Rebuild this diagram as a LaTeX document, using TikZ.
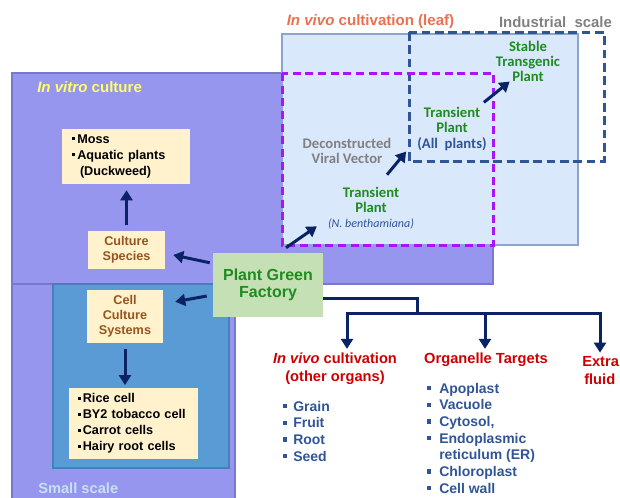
\documentclass[tikz,border=0pt]{standalone}
\usepackage{fontspec}
\setmainfont{Liberation Sans}
\newfontfamily\calfont{Carlito}
\usetikzlibrary{arrows.meta,calc}

\definecolor{vitro}{RGB}{150,150,238}
\definecolor{vitroline}{RGB}{120,120,205}
\definecolor{cellfill}{RGB}{91,155,213}
\definecolor{cellline}{RGB}{70,128,188}
\definecolor{leaffill}{RGB}{218,232,252}
\definecolor{leafline}{RGB}{140,165,205}
\definecolor{cream}{RGB}{255,242,204}
\definecolor{pgffill}{RGB}{197,224,180}
\definecolor{navy}{RGB}{10,35,100}
\definecolor{dashblue}{RGB}{47,85,151}
\definecolor{dashpurple}{RGB}{170,20,250}
\definecolor{orangetxt}{RGB}{236,112,80}
\definecolor{graytxt}{RGB}{128,128,128}
\definecolor{greentxt}{RGB}{30,140,30}
\definecolor{redtxt}{RGB}{204,0,0}
\definecolor{bluetxt}{RGB}{47,85,151}
\definecolor{yellowtxt}{RGB}{255,255,102}
\definecolor{browntxt}{RGB}{150,85,30}
\definecolor{smalltxt}{RGB}{200,225,245}

\newcommand{\sqb}{\rule[0.2em]{0.3em}{0.3em}}
\newcommand{\boxb}{\makebox[4pt][l]{\rule[0.25em]{2.3pt}{2.3pt}}}

\begin{document}
\begin{tikzpicture}[x=0.75pt,y=0.75pt,yscale=-1,xscale=1,
  font=\bfseries,
  arr/.style={draw=navy,line width=2.25pt,-{Triangle[length=7.5pt,width=9pt]}},
  tree/.style={draw=navy,line width=2.25pt},
  box/.style={fill=cream,inner sep=0pt,align=center},
  listbox/.style={fill=cream,inner ysep=0pt,align=left,font=\bfseries\fontsize{9.5}{12}\selectfont},
  headtxt/.style={text=redtxt,align=center,inner sep=0pt,font=\bfseries\fontsize{11}{13.5}\selectfont},
  bluelist/.style={text=bluetxt,align=left,inner sep=0pt,font=\bfseries\fontsize{10.5}{12.5}\selectfont},
  leaftxt/.style={align=center,inner sep=0pt,font=\calfont\bfseries\fontsize{11}{11.3}\selectfont}]
\useasboundingbox (0,0) rectangle (620,497);

% Regions
\draw[fill=vitro,draw=vitroline,line width=1pt] (12,73) rectangle (493,284);
\draw[fill=vitro,draw=vitroline,line width=1pt] (12,284) rectangle (235,505);
\draw[fill=cellfill,draw=cellline,line width=1pt] (53,284) rectangle (229,468);
\draw[fill=leaffill,draw=leafline,line width=1.1pt] (282,34) rectangle (578,245);
\draw[draw=dashblue,line width=2.25pt,dash pattern=on 6.5pt off 3.5pt] (409,32) rectangle (604,161);
\draw[draw=dashpurple,line width=2.25pt,dash pattern=on 6pt off 3.5pt] (282,73) rectangle (493,245);

% Text Node
\node[inner sep=0pt,text=orangetxt,font=\bfseries\fontsize{11.3}{13}\selectfont] (leaflbl) at (370.5,22) {\textit{In vivo} cultivation (leaf)};
% Text Node
\node[inner sep=0pt,text=graytxt,font=\bfseries\fontsize{11.2}{13}\selectfont] (indlbl) at (555.5,22) {Industrial\ \ scale};
% Text Node
\node[leaftxt,text=greentxt] (stable) at (528,61) {Stable\\Transgenic\\Plant};
% Text Node
\node[leaftxt,text=greentxt] (transall) at (452,129) {Transient\\Plant\\\textcolor{bluetxt}{(All\ \ plants)}};
% Text Node
\node[leaftxt,text=graytxt] (decon) at (347,151) {Deconstructed\\Viral Vector};
% Text Node
\node[leaftxt,text=greentxt] (benth) at (371,208) {Transient\\Plant\\\textcolor{bluetxt}{\mdseries\itshape\fontsize{9}{11}\selectfont(N. benthamiana)}};
% Text Node
\node[anchor=west,inner sep=0pt,text=yellowtxt,font=\bfseries\fontsize{11.3}{13}\selectfont] (vitrolbl) at (37,87) {\textit{In vitro} culture};
% Text Node
\node[anchor=west,inner sep=0pt,text=smalltxt,font=\bfseries\fontsize{11}{13}\selectfont] (smalllbl) at (38,488) {Small scale};

% Boxes
\node[listbox,inner xsep=7.5pt,text width=81pt,minimum height=41.25pt] (moss) at (126,156.5) {\boxb Moss\\\boxb Aquatic plants\\\hspace*{6pt}(Duckweed)};
\node[box,text=browntxt,minimum width=57.75pt,minimum height=28.5pt,font=\bfseries\fontsize{9.5}{11.3}\selectfont] (species) at (126.5,250) {Culture\\Species};
\node[box,fill=pgffill,text=greentxt,minimum width=82.5pt,minimum height=48pt,font=\bfseries\fontsize{12}{13}\selectfont] (pgf) at (268,285) {Plant Green\\Factory};
\node[box,text=browntxt,minimum width=57pt,minimum height=39.75pt,font=\bfseries\fontsize{9.5}{11.3}\selectfont] (cell) at (125,316.5) {Cell\\Culture\\Systems};
\node[listbox,inner xsep=6.4pt,text width=84pt,minimum height=53.25pt] (rice) at (133.5,423.5) {\boxb Rice cell\\\boxb BY2 tobacco cell\\\boxb Carrot cells\\\boxb Hairy root cells};

% Text Node
\node[headtxt] (organs) at (335,369) {\textit{In vivo} cultivation\\(other organs)};
% Text Node
\node[headtxt] (organelle) at (486,360) {Organelle Targets};
% Text Node
\node[headtxt,anchor=west,align=left] (extra) at (582,371) {Extra\\\hspace*{1.5pt}fluid};
% Text Node
\node[bluelist,anchor=west] (organlist) at (283,431) {\makebox[7.5pt][l]{\sqb}Grain\\\makebox[7.5pt][l]{\sqb}Fruit\\\makebox[7.5pt][l]{\sqb}Root\\\makebox[7.5pt][l]{\sqb}Seed};
% Text Node
\node[bluelist,anchor=west] (targetlist) at (427,438) {\makebox[9pt][l]{\sqb}Apoplast\\\makebox[9pt][l]{\sqb}Vacuole\\\makebox[9pt][l]{\sqb}Cytosol,\\\makebox[9pt][l]{\sqb}Endoplasmic\\\hspace*{9pt}reticulum (ER)\\\makebox[9pt][l]{\sqb}Chloroplast\\\makebox[9pt][l]{\sqb}Cell wall};

% Connection
\draw[arr] ($(pgf.north west)+(-3,10)$) -- ($(species.east)+(8,5)$);
% Connection
\draw[arr] ($(pgf.west)+(-6,11)$) -- ($(cell.north east)+(12,12)$);
% Connection
\draw[arr,shorten <=4pt,shorten >=4.5pt] (species.north) -- (moss.south -| species.north);
% Connection
\draw[arr,shorten <=4pt,shorten >=2pt] (cell.south) -- (rice.north -| cell.south);
% Connection
\draw[arr] ($(pgf.north)+(18,-5)$) -- ($(benth.south west)+(-11,-3)$);
% Connection
\draw[arr] ($(benth.north)+(16,-12)$) -- ($(transall.south west)+(-11,1)$);
% Connection
\draw[arr] ($(transall.north east)+(-3,-5)$) -- ($(stable.south west)+(14,0)$);

% Tree
\coordinate (split) at (417,313);
\draw[tree] ($(pgf.east)+(0,13)$) -| (split);
\draw[arr] (split) -| ($(organs.north)+(12,-4)$);
\draw[arr] (split) -| ($(organelle.north)+(-1,-4)$);
\draw[arr] (split) -| ($(extra.north west)+(18,-4)$);

\end{tikzpicture}
\end{document}
